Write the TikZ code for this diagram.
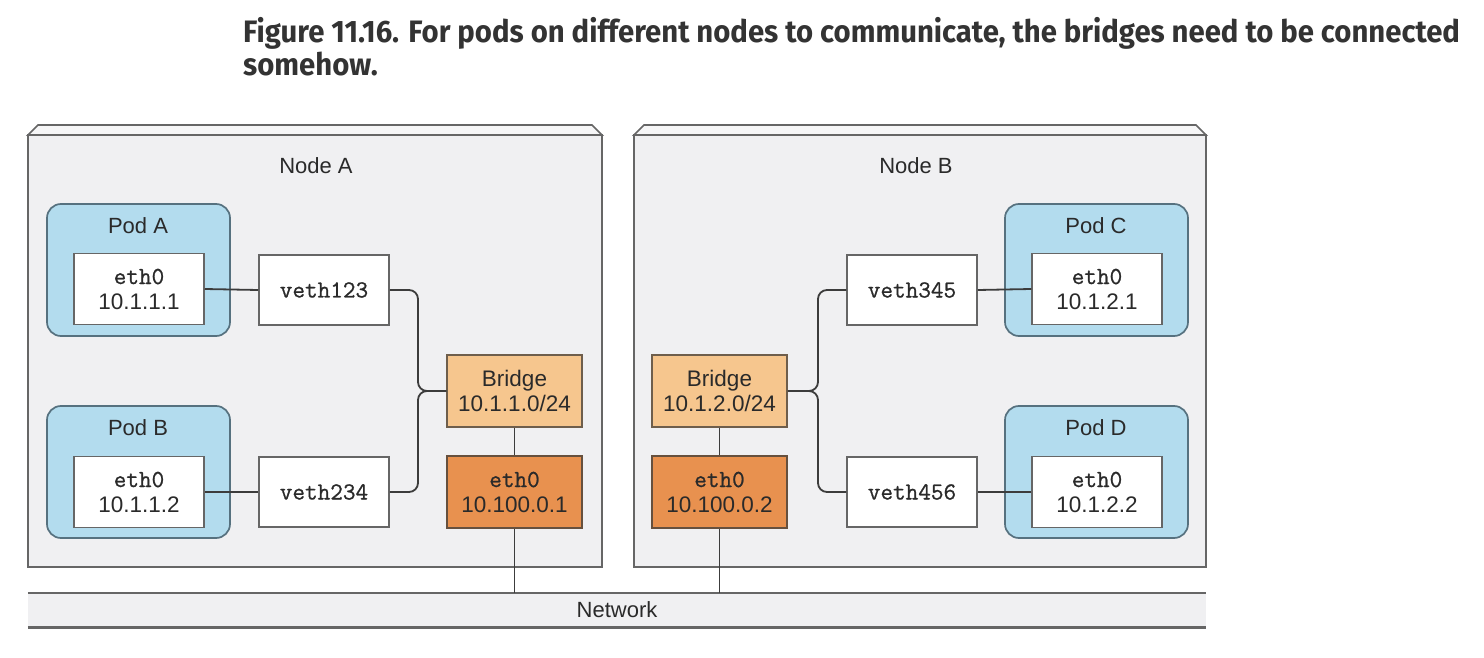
\documentclass[tikz,border=0pt]{standalone}
\usepackage{fontspec}
\setmainfont{Liberation Sans}
\newfontfamily\monofont[FakeBold=0.9]{Latin Modern Mono}
\newfontfamily\titlefont[FakeStretch=0.945]{Fira Sans}
\usetikzlibrary{calc}

\definecolor{hostfill}{HTML}{F0F0F2}
\definecolor{hostedge}{HTML}{666666}
\definecolor{podfill}{HTML}{B3DCEE}
\definecolor{podedge}{HTML}{56717F}
\definecolor{brfill}{HTML}{F6C68E}
\definecolor{bredge}{HTML}{6E5E4C}
\definecolor{ethfill}{HTML}{E8914F}
\definecolor{ethedge}{HTML}{66503E}
\definecolor{ink}{HTML}{2A2A2A}
\definecolor{titleink}{HTML}{333333}
\definecolor{wirec}{HTML}{3C3C3C}

\tikzset{
  lbl/.style={font=\fontsize{22}{26}\selectfont, text=ink, inner sep=0pt},
  pod/.style={draw=podedge, fill=podfill, line width=1.7pt, rounded corners=14pt,
              minimum width=183pt, minimum height=132pt, inner sep=0pt},
  ifbox/.style={draw=hostedge, fill=white, line width=1.5pt, minimum width=130pt,
              minimum height=71pt, inner sep=0pt, align=center, text=ink,
              font=\fontsize{22.5}{25}\selectfont},
  brbox/.style={ifbox, draw=bredge, fill=brfill, minimum width=135pt, minimum height=72pt},
  ethbox/.style={ifbox, draw=ethedge, fill=ethfill, minimum width=135pt, minimum height=72pt},
  wire/.style={draw=wirec, line width=1.8pt, rounded corners=9pt},
  hostframe/.style={draw=hostedge, fill=hostfill, line width=1.7pt},
  caption/.style={anchor=base west, inner sep=0pt, text=titleink,
              font=\titlefont\bfseries\fontsize{31}{36}\selectfont},
}
\newcommand{\mono}[1]{{\monofont\fontsize{24.5}{25}\selectfont #1}}

\begin{document}
\begin{tikzpicture}[x=1pt,y=-1pt]
\useasboundingbox[fill=white] (0,0) rectangle (1484,658);

% caption
\node[caption] (title1) at (243,43) {Figure 11.16. For pods on different nodes to communicate, the bridges need to be connected};
\node[caption] (title2) at (243,76) {somehow.};

% host frames with bevelled tops
\foreach \xl/\xr in {28/602, 634/1206}{
  \filldraw[hostframe, fill=hostfill!60!white] (\xl,135) -- (\xl+10,125) -- (\xr-10,125) -- (\xr,135) -- cycle;
  \filldraw[hostframe] (\xl,135) rectangle (\xr,567);
  \draw[hostedge, line width=2.4pt] (\xl+1,567) -- (\xr,567);
}
\node[lbl] (labA) at (316,166) {Node A};
\node[lbl] (labB) at (916,166) {Node B};

% network band
\node[fill=hostfill, minimum width=1178pt, minimum height=34pt, inner sep=0pt] (net) at (617,610) {};
\node[lbl] (netlbl) at (net) {Network};
\draw[hostedge, line width=2.6pt] (net.north west) -- (net.north east);
\draw[hostedge, line width=2.6pt] (net.south west) -- (net.south east);

% pods on Node A
\node[pod] (podA) at (138.5,270) {};
\node[lbl] (podAl) at (138,226) {Pod A};
\node[ifbox] (ethA1) at (139,289) {\mono{eth0}\\10.1.1.1};
\node[pod] (podB) at (138.5,472) {};
\node[lbl] (podBl) at (138,428) {Pod B};
\node[ifbox] (ethA2) at (139,492) {\mono{eth0}\\10.1.1.2};
\node[ifbox, minimum height=70pt] (v123) at (324,290) {\mono{veth123}};
\node[ifbox, minimum height=70pt] (v234) at (324,492) {\mono{veth234}};
\node[brbox] (brA) at (514.5,391) {Bridge\\10.1.1.0/24};
\node[ethbox] (hA) at (514.5,492) {\mono{eth0}\\10.100.0.1};

% pods on Node B
\node[pod] (podC) at (1096.5,270) {};
\node[lbl] (podCl) at (1096,226) {Pod C};
\node[ifbox] (ethB1) at (1097,289) {\mono{eth0}\\10.1.2.1};
\node[pod] (podD) at (1096.5,472) {};
\node[lbl] (podDl) at (1096,428) {Pod D};
\node[ifbox] (ethB2) at (1097,492) {\mono{eth0}\\10.1.2.2};
\node[ifbox, minimum height=70pt] (v345) at (912,290) {\mono{veth345}};
\node[ifbox, minimum height=70pt] (v456) at (912,492) {\mono{veth456}};
\node[brbox] (brB) at (719.5,391) {Bridge\\10.1.2.0/24};
\node[ethbox] (hB) at (719.5,492) {\mono{eth0}\\10.100.0.2};

% junction points beside the bridges
\coordinate (jA) at (418,391);
\coordinate (jB) at (818,391);

% links
\draw[wire, rounded corners=0pt] (ethA1.east) -- (v123.west);
\draw[wire, rounded corners=0pt] (ethA2.east) -- (v234.west);
\draw[wire] (v123.east) -| (jA) -- (brA.west);
\draw[wire] (v234.east) -| (jA) -- (brA.west);
\draw[wire, rounded corners=0pt] (brA) -- (hA);
\draw[wire, rounded corners=0pt] (hA.south) -- (hA.south |- net.north);

\draw[wire, rounded corners=0pt] (ethB1.west) -- (v345.east);
\draw[wire, rounded corners=0pt] (ethB2.west) -- (v456.east);
\draw[wire] (v345.west) -| (jB) -- (brB.east);
\draw[wire] (v456.west) -| (jB) -- (brB.east);
\draw[wire, rounded corners=0pt] (brB) -- (hB);
\draw[wire, rounded corners=0pt] (hB.south) -- (hB.south |- net.north);
\end{tikzpicture}
\end{document}
